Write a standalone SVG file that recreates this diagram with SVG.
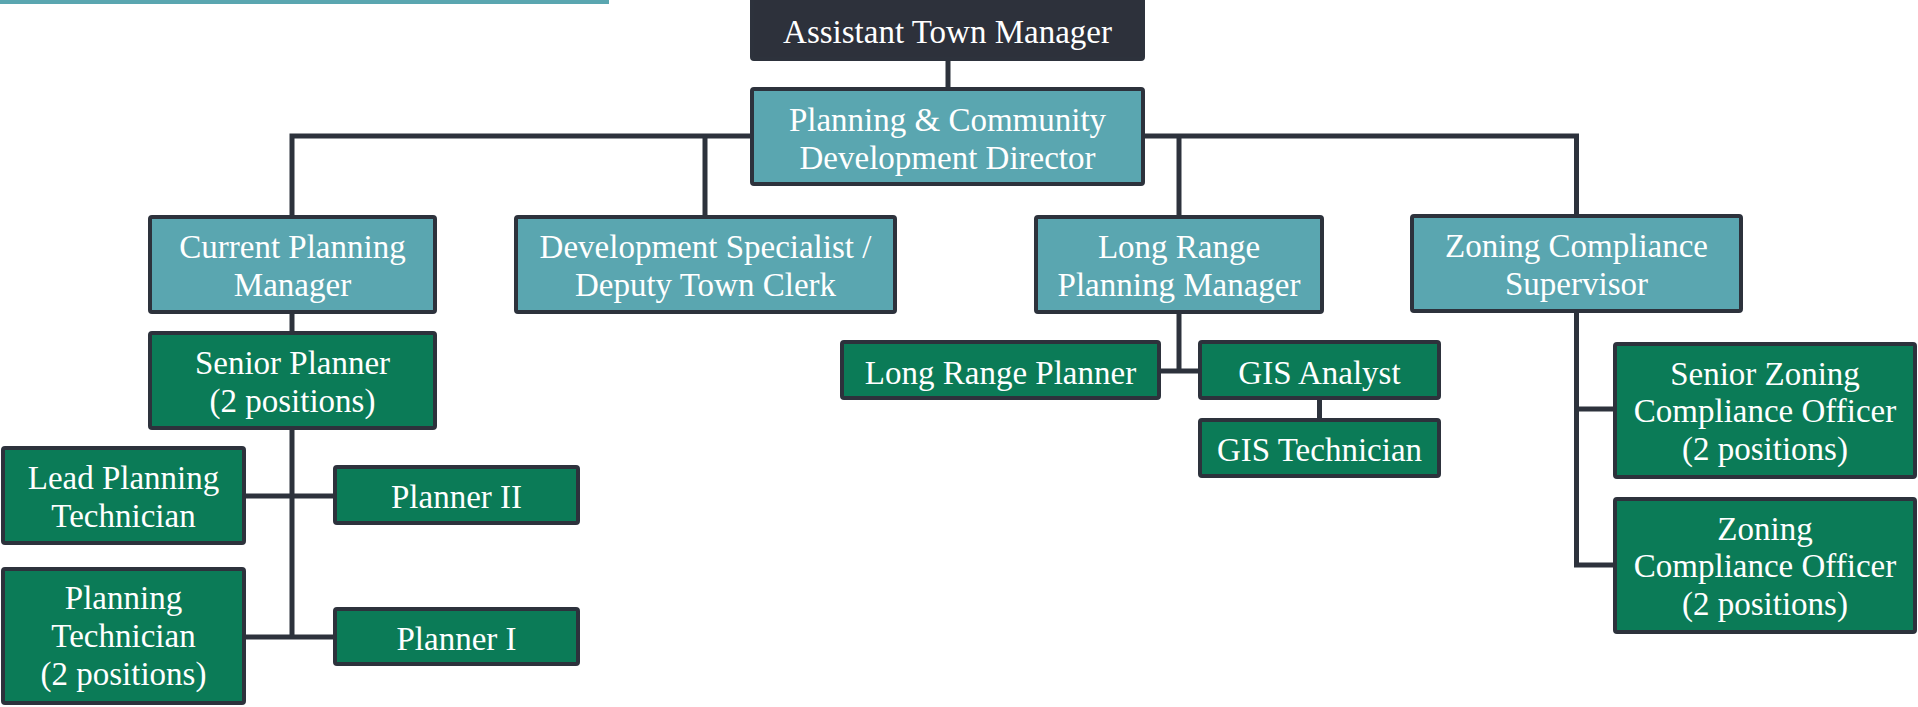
<svg xmlns="http://www.w3.org/2000/svg" width="1918" height="707" viewBox="0 0 1918 707">
<style>
.box{stroke:#2d323c;stroke-width:4}
.teal{fill:#5aa6b0}
.green{fill:#0b7b57}
.dark{fill:#2d313b}
.t{font-family:"Liberation Serif","Times New Roman",serif;font-size:33px;fill:#ffffff;text-anchor:middle}
.c{fill:none;stroke:#2d323c;stroke-width:5}
</style>
<rect x="0" y="0" width="609" height="4" fill="#5aa6b0"/>
<g id="connectors">
<path class="c" d="M948,61 V89"/>
<path class="c" d="M292,217 V136 H1576.5 V216"/>
<path class="c" d="M705,136 V217"/>
<path class="c" d="M1179,136 V217"/>
<path class="c" d="M292,312 V333"/>
<path class="c" d="M292,428 V639"/>
<path class="c" d="M244,496 H335"/>
<path class="c" d="M244,637 H335"/>
<path class="c" d="M1179,312 V371"/>
<path class="c" d="M1159,371 H1200"/>
<path class="c" d="M1319.5,398 V420"/>
<path class="c" d="M1576.5,311 V565 H1615"/>
<path class="c" d="M1576.5,409 H1615"/>
</g>
<g id="atm">
<rect class="box dark" x="752" y="-3" width="391" height="62" rx="2"/>
<text class="t" x="947.5" y="43">Assistant Town Manager</text>
</g>
<g id="pcd">
<rect class="box teal" x="752" y="89" width="391" height="95" rx="2"/>
<text class="t" x="947.5" y="130.5">Planning &amp; Community</text>
<text class="t" x="947.5" y="168.5">Development Director</text>
</g>
<g id="cpm">
<rect class="box teal" x="150" y="217" width="285" height="95" rx="2"/>
<text class="t" x="292.5" y="258">Current Planning</text>
<text class="t" x="292.5" y="296">Manager</text>
</g>
<g id="devspec">
<rect class="box teal" x="516" y="217" width="379" height="95" rx="2"/>
<text class="t" x="705.5" y="258">Development Specialist /</text>
<text class="t" x="705.5" y="296">Deputy Town Clerk</text>
</g>
<g id="lrpm">
<rect class="box teal" x="1036" y="217" width="286" height="95" rx="2"/>
<text class="t" x="1179" y="258">Long Range</text>
<text class="t" x="1179" y="296">Planning Manager</text>
</g>
<g id="zcs">
<rect class="box teal" x="1412" y="216" width="329" height="95" rx="2"/>
<text class="t" x="1576.5" y="257">Zoning Compliance</text>
<text class="t" x="1576.5" y="295">Supervisor</text>
</g>
<g id="sp">
<rect class="box green" x="150" y="333" width="285" height="95" rx="2"/>
<text class="t" x="292.5" y="373.5">Senior Planner</text>
<text class="t" x="292.5" y="411.5">(2 positions)</text>
</g>
<g id="lpt">
<rect class="box green" x="3" y="448" width="241" height="95" rx="2"/>
<text class="t" x="123.5" y="488.5">Lead Planning</text>
<text class="t" x="123.5" y="526.5">Technician</text>
</g>
<g id="p2">
<rect class="box green" x="335" y="467" width="243" height="56" rx="2"/>
<text class="t" x="456.5" y="508">Planner II</text>
</g>
<g id="pt">
<rect class="box green" x="3" y="569" width="241" height="134" rx="2"/>
<text class="t" x="123.5" y="609">Planning</text>
<text class="t" x="123.5" y="647">Technician</text>
<text class="t" x="123.5" y="685">(2 positions)</text>
</g>
<g id="p1">
<rect class="box green" x="335" y="609" width="243" height="55" rx="2"/>
<text class="t" x="456.5" y="649.5">Planner I</text>
</g>
<g id="lrp">
<rect class="box green" x="842" y="342" width="317" height="56" rx="2"/>
<text class="t" x="1000.5" y="383.5">Long Range Planner</text>
</g>
<g id="gisa">
<rect class="box green" x="1200" y="342" width="239" height="56" rx="2"/>
<text class="t" x="1319.5" y="383.5">GIS Analyst</text>
</g>
<g id="gist">
<rect class="box green" x="1200" y="420" width="239" height="56" rx="2"/>
<text class="t" x="1319.5" y="461">GIS Technician</text>
</g>
<g id="szco">
<rect class="box green" x="1615" y="344" width="300" height="133" rx="2"/>
<text class="t" x="1765" y="384.5">Senior Zoning</text>
<text class="t" x="1765" y="422">Compliance Officer</text>
<text class="t" x="1765" y="459.5">(2 positions)</text>
</g>
<g id="zco">
<rect class="box green" x="1615" y="499" width="300" height="133" rx="2"/>
<text class="t" x="1765" y="539.5">Zoning</text>
<text class="t" x="1765" y="577">Compliance Officer</text>
<text class="t" x="1765" y="614.5">(2 positions)</text>
</g>
</svg>
